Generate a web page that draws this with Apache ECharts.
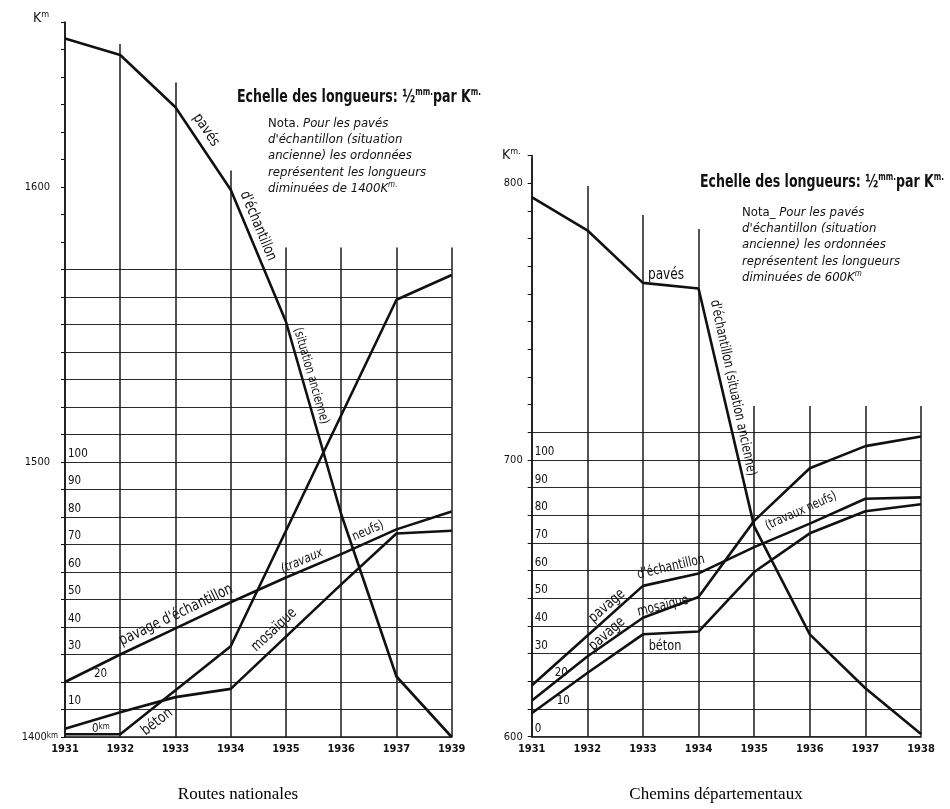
<!DOCTYPE html>
<html>
<head>
<meta charset="utf-8">
<script src="https://cdn.jsdelivr.net/npm/echarts@6/dist/echarts.min.js"></script>
<style>
html,body{margin:0;padding:0;background:#fff;}
#c{width:950px;height:809px;}
</style>
</head>
<body>
<div id="c"></div>
<script>
// ---------- DATA ----------
// Routes nationales
const yearsNat = ['1931','1932','1933','1934','1935','1936','1937','1939'];
const offsetNat = 1400; // pavés d'échantillon (situation ancienne): ordonnées diminuées de 1400 km
const pavesNat   = [1654, 1648, 1629, 1599, 1551, 1481, 1422, 1400];
const echantNat  = [20, 30, 39.5, 49, 58, 66.5, 75.5, 82];
const mosaiqueNat= [3, 9, 14.5, 17.5, 36.5, 55.5, 74, 75];
const betonNat   = [1, 1, 17, 33, 75, 117, 159, 168];
const outerTicksNat = {0:'1400', 100:'1500', 200:'1600'};

// Chemins départementaux
const yearsDep = ['1931','1932','1933','1934','1935','1936','1937','1938'];
const offsetDep = 600; // ordonnées diminuées de 600 km
const pavesDep   = [795, 783, 764, 762, 676, 637, 617.5, 601];
const echantDep  = [18.5, 36.5, 54.5, 59, 68.5, 77, 86, 86.5];
const mosaiqueDep= [13, 29, 43, 50.5, 78, 97, 105, 108.5];
const betonDep   = [8.5, 23, 37, 38, 59.5, 73.5, 81.5, 84];
const outerTicksDep = {0:'600', 100:'700', 200:'800'};

// inner scale (travaux neufs, km)
const innerLabels = [0,10,20,30,40,50,60,70,80,90,100];

// ---------- LAYOUT / STYLE ----------
const F = "'DejaVu Sans Condensed','Liberation Sans Narrow','Arial Narrow','DejaVu Sans',sans-serif";
const INK = '#111';
const layoutNat = {yMax:260, gridMax:170, vTop:[260,252,238,206,178,178,178,178], innerPad:{0:24,20:26}};
const layoutDep = {yMax:210, gridMax:110, vTop:[209,199,188.5,183.5,119.5,119.5,119.5,119.5], innerPad:{10:22,20:20}};

function gridLines(lay, zeroText){
  const out = [];
  for (let v = 0; v <= lay.gridMax; v += 10) {
    const item = {yAxis: v};
    if (innerLabels.indexOf(v) >= 0) {
      item.label = {
        show: true, position: 'insideStartTop', distance: [3, 2],
        formatter: v === 0 ? zeroText : String(v),
        padding: [0, 0, 0, lay.innerPad[v] || 0],
        color: INK, fontFamily: F, fontSize: 11.5,
        rich: {k: {fontSize: 8, fontFamily: F, color: INK, verticalAlign: 'top'}}
      };
    } else {
      item.label = {show: false};
    }
    out.push(item);
  }
  return out;
}
function vertLines(years, lay){
  return years.map((y, i) => [{coord: [i, 0]}, {coord: [i, lay.vTop[i]]}]);
}
function lineSeries(name, data, gi, extra){
  return Object.assign({
    name, type: 'line', data, xAxisIndex: gi, yAxisIndex: gi,
    symbol: 'none', silent: true, animation: false,
    lineStyle: {color: INK, width: 2.6}, z: 5
  }, extra || {});
}
function frameSeries(years, lay, gi, zeroText){
  return {
    type: 'line', data: years.map(() => null), xAxisIndex: gi, yAxisIndex: gi,
    symbol: 'none', silent: true, animation: false, z: 2,
    markLine: {
      silent: true, symbol: ['none','none'], animation: false,
      lineStyle: {color: '#2a2a2a', width: 1.2, type: 'solid'},
      data: gridLines(lay, zeroText).concat(vertLines(years, lay).map(p => [
        Object.assign({}, p[0], {lineStyle: {width: 1.5, color: '#1a1a1a'}, label: {show: false}}), p[1]
      ]))
    }
  };
}
function yAxisDef(gi, lay, ticks, margin, padNames){
  return {
    gridIndex: gi, type: 'value', min: 0, max: lay.yMax, interval: 10,
    splitLine: {show: false},
    axisLine: {show: true, lineStyle: {color: INK, width: 1.6}},
    axisTick: {show: true, length: 4, lineStyle: {color: INK, width: 1}},
    axisLabel: {
      margin, color: INK, fontFamily: F, fontSize: 11,
      formatter: v => ticks[v] === undefined ? '' :
        (v === 0 && padNames ? '{n|' + ticks[v] + '}{k|km}' : '{n|' + ticks[v] + '}' + (padNames ? '{sp|}' : '')),
      rich: {
        n: {fontFamily: F, fontSize: 11, color: INK},
        k: {fontFamily: F, fontSize: 8, color: INK, verticalAlign: 'top'},
        sp: {width: 8}
      }
    }
  };
}
function xAxisDef(gi, years){
  return {
    gridIndex: gi, type: 'category', data: years, boundaryGap: false,
    axisLine: {show: true, lineStyle: {color: INK, width: 1.6}},
    axisTick: {show: false}, splitLine: {show: false},
    axisLabel: {interval: 0, margin: 7, color: INK, fontFamily: F, fontSize: 11, fontWeight: 'bold'}
  };
}

const chart = echarts.init(document.getElementById('c'), null, {renderer: 'canvas'});

function txt(x, y, text, size, rot, opts){
  opts = opts || {};
  return {
    type: 'text', x, y, rotation: rot || 0, scaleX: opts.sx || 1, silent: true, z: 10,
    style: {
      text, fill: INK, font: (opts.style || '') + ' ' + (opts.weight || 'normal') + ' ' + size + 'px ' + F,
      textAlign: opts.align || 'center', textVerticalAlign: 'middle',
      rich: opts.rich
    }
  };
}
const titleRich = {
  b: {fontFamily: F, fontSize: 17.5, fontWeight: 'bold', fill: INK, lineHeight: 20},
  s: {fontFamily: F, fontSize: 10, fontWeight: 'bold', fill: INK, verticalAlign: 'top', lineHeight: 20}
};
const notaRich = {
  n: {fontFamily: F, fontSize: 13, fill: INK, lineHeight: 16.4},
  i: {fontFamily: F, fontSize: 13, fontStyle: 'italic', fill: INK, lineHeight: 16.4},
  s: {fontFamily: F, fontSize: 8, fontStyle: 'italic', fill: INK, verticalAlign: 'top', lineHeight: 16.4}
};
const kmRich = {
  K: {fontFamily: F, fontSize: 14, fill: INK, lineHeight: 16},
  s: {fontFamily: F, fontSize: 9, fill: INK, verticalAlign: 'top', lineHeight: 16}
};

const graphics = [
  // axis units
  txt(33, 18, '{K|K}{s|m}', 14, 0, {align: 'left', rich: kmRich}),
  txt(502, 155, '{K|K}{s|m.}', 14, 0, {align: 'left', rich: kmRich}),
  // titles
  txt(237, 97, '{b|Echelle des longueurs: ½}{s|mm.}{b|par K}{s|m.}', 17.5, 0, {align: 'left', rich: titleRich, sx: 0.8}),
  txt(700, 182, '{b|Echelle des longueurs: ½}{s|mm.}{b|par K}{s|m.}', 17.5, 0, {align: 'left', rich: titleRich, sx: 0.8}),
  // notes
  txt(268, 156, '{n|Nota.}{i| Pour les pavés}\n{i|d\'échantillon (situation}\n{i|ancienne) les ordonnées}\n{i|représentent les longueurs}\n{i|diminuées de 1400K}{s|m.}', 13, 0, {align: 'left', rich: notaRich}),
  txt(742, 245, '{n|Nota_}{i| Pour les pavés}\n{i|d\'échantillon (situation}\n{i|ancienne) les ordonnées}\n{i|représentent les longueurs}\n{i|diminuées de 600K}{s|m}', 13, 0, {align: 'left', rich: notaRich}),
  // curve labels, Routes nationales
  txt(206, 130, 'pavés', 15, -0.977, {sx: 0.9}),
  txt(258, 226, 'd\'échantillon', 15, -1.18, {sx: 0.85}),
  txt(311, 376, '(situation ancienne)', 13, -1.29, {sx: 0.85}),
  txt(176, 615, 'pavage d\'échantillon', 15.5, 0.445, {sx: 0.85}),
  txt(302, 561, '(travaux', 13, 0.41, {style: 'italic', sx: 0.9}),
  txt(368, 531, 'neufs)', 13, 0.41, {sx: 0.9}),
  txt(274, 630, 'mosaïque', 15, 0.75, {sx: 0.85}),
  txt(157, 722, 'béton', 15, 0.66, {sx: 0.9}),
  // curve labels, Chemins départementaux
  txt(666, 275, 'pavés', 15, 0, {sx: 0.9}),
  txt(733, 388, 'd\'échantillon (situation ancienne)', 14, -1.36, {sx: 0.85}),
  txt(607, 606, 'pavage', 15, 0.72, {sx: 0.85}),
  txt(671, 567, 'd\'échantillon', 14, 0.23, {sx: 0.85}),
  txt(607, 634, 'pavage', 15, 0.72, {sx: 0.85}),
  txt(663, 606, 'mosaïque', 14, 0.24, {sx: 0.85}),
  txt(665, 646, 'béton', 14, 0, {sx: 0.9}),
  txt(801, 511, '(travaux neufs)', 13, 0.42, {sx: 0.85}),
  // captions
  {type: 'text', x: 238, y: 795, silent: true, style: {text: 'Routes nationales', fill: '#000', font: '17px "Liberation Serif","DejaVu Serif",serif', textAlign: 'center', textVerticalAlign: 'middle'}},
  {type: 'text', x: 716, y: 795, silent: true, style: {text: 'Chemins départementaux', fill: '#000', font: '17px "Liberation Serif","DejaVu Serif",serif', textAlign: 'center', textVerticalAlign: 'middle'}}
];

const option = {
  animation: false,
  backgroundColor: '#fff',
  grid: [
    {left: 65, top: 22, width: 386.7, height: 715},
    {left: 531.7, top: 155.6, width: 389.3, height: 581.1}
  ],
  xAxis: [xAxisDef(0, yearsNat), xAxisDef(1, yearsDep)],
  yAxis: [yAxisDef(0, layoutNat, outerTicksNat, 7, true), yAxisDef(1, layoutDep, outerTicksDep, 9, false)],
  series: [
    frameSeries(yearsNat, layoutNat, 0, '0{k|km}'),
    lineSeries('pavés d\'échantillon (situation ancienne)', pavesNat.map(v => v - offsetNat), 0),
    lineSeries('pavage d\'échantillon (travaux neufs)', echantNat, 0),
    lineSeries('mosaïque', mosaiqueNat, 0),
    lineSeries('béton', betonNat, 0),
    frameSeries(yearsDep, layoutDep, 1, '0'),
    lineSeries('pavés d\'échantillon (situation ancienne)', pavesDep.map(v => v - offsetDep), 1),
    lineSeries('pavage d\'échantillon (travaux neufs)', echantDep, 1),
    lineSeries('pavage mosaïque', mosaiqueDep, 1),
    lineSeries('béton', betonDep, 1)
  ],
  graphic: graphics
};
chart.setOption(option);
</script>
</body>
</html>
